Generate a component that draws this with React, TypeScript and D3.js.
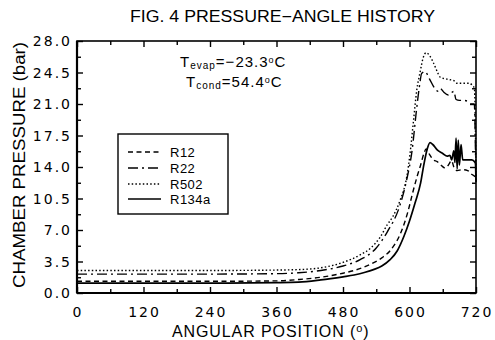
import React, { useEffect, useRef } from 'react';
import * as d3 from 'd3';

// tick values
const angleTicks = [0, 120, 240, 360, 480, 600, 720];
const angleMinorTicks = [60, 180, 300, 420, 540, 660];
const pressureTicks = [0, 3.5, 7, 10.5, 14, 17.5, 21, 24.5, 28];
const pressureMinorTicks = [1.75, 5.25, 8.75, 12.25, 15.75, 19.25, 22.75, 26.25];

// series (angle in degrees, pressure in bar)
const r12Angle = [0, 120, 240, 360, 400, 440, 480, 500, 530, 550, 565, 585, 597, 606, 614, 620, 626, 630, 636, 643, 650, 657, 664, 670, 676, 680, 686, 695, 705, 712, 717, 719, 720];
const r12Pressure = [1.3, 1.3, 1.3, 1.35, 1.5, 1.75, 2.2, 2.5, 3.2, 3.9, 4.7, 6.8, 9.0, 11.2, 13.0, 14.2, 15.5, 16.0, 15.4, 14.8, 14.6, 14.2, 13.9, 14.2, 14.7, 14.0, 13.6, 13.7, 13.6, 13.2, 13.0, 12.8, 12.5];

const r22Angle = [0, 120, 240, 360, 400, 440, 480, 511, 540, 560, 583, 595, 605, 612, 618, 622, 628, 636, 645, 652, 656, 662, 670, 680, 684, 690, 697, 705, 712, 717, 719, 720];
const r22Pressure = [2.1, 2.1, 2.1, 2.15, 2.25, 2.5, 3.0, 3.7, 5.0, 6.8, 9.8, 12.6, 16.0, 20.0, 23.0, 24.4, 24.6, 23.8, 22.8, 22.4, 22.7, 22.3, 22.0, 22.4, 21.5, 21.4, 21.4, 21.3, 21.0, 21.0, 16.0, 12.5];

const r502Angle = [0, 120, 240, 360, 400, 440, 480, 510, 530, 547, 560, 570, 583, 595, 601, 607, 613, 619, 625, 630, 636, 643, 650, 655, 665, 673, 680, 686, 697, 709, 714, 717, 719, 720];
const r502Pressure = [2.5, 2.5, 2.5, 2.55, 2.6, 2.8, 3.4, 4.2, 5.0, 6.2, 7.6, 8.5, 10.3, 12.9, 15.5, 19.0, 22.5, 24.5, 26.2, 26.7, 26.4, 25.6, 24.6, 24.0, 23.8, 23.7, 23.6, 23.3, 23.3, 23.3, 23.0, 22.8, 18.0, 12.5];

const r134aAngle = [0, 120, 240, 360, 400, 440, 480, 500, 520, 535, 550, 565, 578, 590, 600, 610, 620, 626, 632, 637, 642, 650, 660, 668, 673, 676, 680, 682, 684, 686, 688, 690, 693, 696, 705, 712, 717, 719, 720];
const r134aPressure = [1.1, 1.1, 1.1, 1.15, 1.2, 1.45, 1.8, 2.0, 2.3, 2.6, 3.0, 3.7, 4.7, 6.3, 8.0, 10.0, 12.2, 14.3, 16.0, 16.7, 16.5, 15.9, 15.5, 15.2, 15.3, 14.8, 15.8, 14.5, 17.2, 13.8, 17.0, 14.2, 16.5, 14.8, 14.8, 14.8, 14.6, 14.4, 12.3];

const seriesNames = ['R12', 'R22', 'R502', 'R134a'];

const App: React.FC = () => {
  const svgRef = useRef<SVGSVGElement | null>(null);

  useEffect(() => {
    if (!svgRef.current) return;
    const svg = d3.select(svgRef.current);
    svg.selectAll('*').remove();

    const left = 77;
    const right = 476;
    const top = 41;
    const bottom = 293;

    const x = d3.scaleLinear().domain([0, 720]).range([left, right]);
    const y = d3.scaleLinear().domain([0, 28]).range([bottom, top]);

    const series = [
      { name: seriesNames[0], angle: r12Angle, p: r12Pressure, dash: '5,3.5', width: 1.4 },
      { name: seriesNames[1], angle: r22Angle, p: r22Pressure, dash: '10,4,2,4', width: 1.4 },
      { name: seriesNames[2], angle: r502Angle, p: r502Pressure, dash: '1.5,2.2', width: 1.4 },
      { name: seriesNames[3], angle: r134aAngle, p: r134aPressure, dash: null, width: 1.7 },
    ];

    const tickFont = 'DejaVu Sans, sans-serif';
    const textFont = 'Liberation Sans, Arial, sans-serif';

    // frame
    svg
      .append('rect')
      .attr('x', left)
      .attr('y', top)
      .attr('width', right - left)
      .attr('height', bottom - top)
      .attr('fill', 'none')
      .attr('stroke', '#000')
      .attr('stroke-width', 1.6);
    svg
      .append('line')
      .attr('x1', left)
      .attr('x2', left)
      .attr('y1', top)
      .attr('y2', bottom)
      .attr('stroke', '#000')
      .attr('stroke-width', 2.2);
    svg
      .append('line')
      .attr('x1', left)
      .attr('x2', right)
      .attr('y1', bottom)
      .attr('y2', bottom)
      .attr('stroke', '#000')
      .attr('stroke-width', 2.2);

    // inward ticks on all four sides
    const addAxis = (axis: d3.Axis<d3.NumberValue>, tx: number, ty: number) => {
      const g = svg.append('g').attr('transform', `translate(${tx},${ty})`).call(axis);
      g.select('.domain').remove();
      g.selectAll('line').attr('stroke', '#000').attr('stroke-width', 1.4);
      return g;
    };
    addAxis(d3.axisBottom(x).tickValues(angleTicks).tickSize(-6).tickFormat(() => ''), 0, bottom);
    addAxis(d3.axisBottom(x).tickValues(angleMinorTicks).tickSize(-4).tickFormat(() => ''), 0, bottom);
    addAxis(d3.axisTop(x).tickValues(angleTicks).tickSize(-6).tickFormat(() => ''), 0, top);
    addAxis(d3.axisTop(x).tickValues(angleMinorTicks).tickSize(-4).tickFormat(() => ''), 0, top);
    addAxis(d3.axisLeft(y).tickValues(pressureTicks).tickSize(-6).tickFormat(() => ''), left, 0);
    addAxis(d3.axisLeft(y).tickValues(pressureMinorTicks).tickSize(-4).tickFormat(() => ''), left, 0);
    addAxis(d3.axisRight(y).tickValues(pressureTicks).tickSize(-6).tickFormat(() => ''), right, 0);
    addAxis(d3.axisRight(y).tickValues(pressureMinorTicks).tickSize(-4).tickFormat(() => ''), right, 0);

    // tick labels
    svg
      .selectAll('.ylab')
      .data(pressureTicks)
      .enter()
      .append('text')
      .attr('x', 72)
      .attr('y', (d) => y(d) + 5)
      .attr('text-anchor', 'end')
      .attr('font-family', tickFont)
      .attr('font-size', 14)
      .attr('letter-spacing', 2)
      .text((d) => d3.format('.1f')(d));

    svg
      .selectAll('.xlab')
      .data(angleTicks)
      .enter()
      .append('text')
      .attr('x', (d) => x(d) + 1)
      .attr('y', 317)
      .attr('text-anchor', 'middle')
      .attr('font-family', tickFont)
      .attr('font-size', 14)
      .attr('letter-spacing', 2)
      .text((d) => String(d));

    // curves
    const line = d3
      .line<[number, number]>()
      .x((d) => x(d[0]))
      .y((d) => y(d[1]))
      .curve(d3.curveMonotoneX);

    series.forEach((s) => {
      const pts = s.angle.map((a, i) => [a, s.p[i]] as [number, number]);
      svg
        .append('path')
        .attr('d', line(pts))
        .attr('fill', 'none')
        .attr('stroke', '#000')
        .attr('stroke-width', s.width)
        .attr('stroke-dasharray', s.dash);
    });

    // title
    svg
      .append('text')
      .attr('x', 130)
      .attr('y', 22)
      .attr('font-family', textFont)
      .attr('font-size', 16)
      .attr('textLength', 305)
      .attr('lengthAdjust', 'spacingAndGlyphs')
      .text('FIG. 4 PRESSURE\u2212ANGLE HISTORY');

    // axis titles
    svg
      .append('text')
      .attr('transform', 'translate(25,165) rotate(-90)')
      .attr('text-anchor', 'middle')
      .attr('font-family', textFont)
      .attr('font-size', 16)
      .attr('textLength', 246)
      .attr('lengthAdjust', 'spacingAndGlyphs')
      .text('CHAMBER PRESSURE (bar)');

    const xt = svg
      .append('text')
      .attr('x', 172)
      .attr('y', 337)
      .attr('font-family', textFont)
      .attr('font-size', 16)
      .attr('letter-spacing', 0.9);
    xt.append('tspan').text('ANGULAR POSITION (');
    xt.append('tspan').attr('font-size', 11).attr('dy', -5).text('o');
    xt.append('tspan').attr('dy', 5).text(')');

    // annotation
    const annot = (yy: number, xx: number, sub: string, val: string) => {
      const t = svg
        .append('text')
        .attr('x', xx)
        .attr('y', yy)
        .attr('font-family', textFont)
        .attr('font-size', 15)
        .attr('letter-spacing', 1);
      t.append('tspan').text('T');
      t.append('tspan').attr('font-size', 10).attr('dy', 2).text(sub);
      t.append('tspan').attr('dy', -2).text(val);
      t.append('tspan').attr('font-size', 9).attr('dy', -4).text('o');
      t.append('tspan').attr('dy', 4).text('C');
    };
    annot(67, 180, 'evap', '=\u221223.3');
    annot(87, 186, 'cond', '=54.4');

    // legend
    svg
      .append('rect')
      .attr('x', 118)
      .attr('y', 134)
      .attr('width', 110)
      .attr('height', 80)
      .attr('fill', '#fff')
      .attr('stroke', '#000')
      .attr('stroke-width', 1.4);
    const rowY = [152, 168, 184, 199];
    series.forEach((s, i) => {
      svg
        .append('line')
        .attr('x1', 128)
        .attr('x2', 161)
        .attr('y1', rowY[i])
        .attr('y2', rowY[i])
        .attr('stroke', '#000')
        .attr('stroke-width', s.width)
        .attr('stroke-dasharray', s.dash);
      svg
        .append('text')
        .attr('x', 170)
        .attr('y', rowY[i] + 5)
        .attr('font-family', textFont)
        .attr('font-size', 13)
        .attr('letter-spacing', 0.5)
        .text(s.name);
    });
  }, []);

  return (
    <svg
      ref={svgRef}
      width={495}
      height={340}
      style={{ position: 'absolute', left: 0, top: 0, background: '#fff' }}
    ></svg>
  );
};

export default App;
